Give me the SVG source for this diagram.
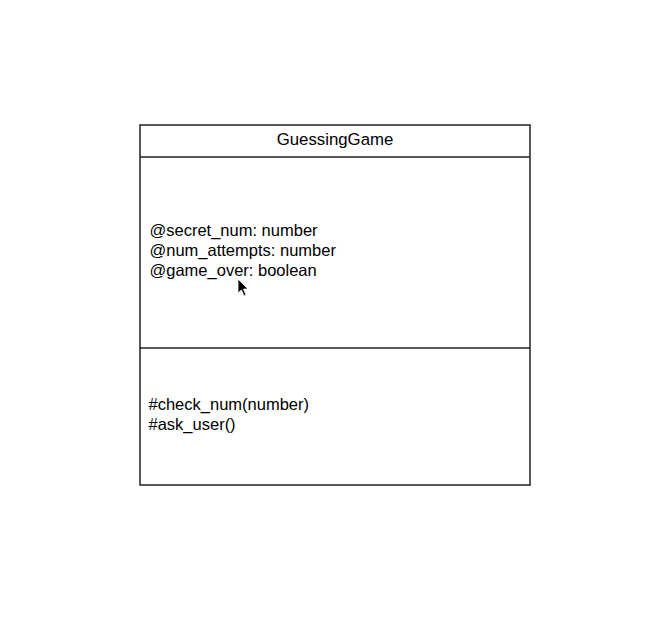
<svg xmlns="http://www.w3.org/2000/svg" width="668" height="619" viewBox="0 0 668 619">
<style>
.box{fill:#fff;stroke:#222;stroke-width:1.5}
.line{stroke:#222;stroke-width:1.5}
text{font-family:"Liberation Sans",Arial,sans-serif;font-size:16.5px;fill:#000}
</style>
<rect width="668" height="619" fill="#fff"/>
<g id="GuessingGame">
<rect class="box" x="140" y="125" width="390" height="360"/>
<line class="line" x1="140" y1="157" x2="530" y2="157"/>
<line class="line" x1="140" y1="348" x2="530" y2="348"/>
<text x="335" y="145" text-anchor="middle" style="font-size:16.8px">GuessingGame</text>
<text x="149.5" y="235.5">@secret_num: number</text>
<text x="149.5" y="255.5">@num_attempts: number</text>
<text x="149.5" y="275.5">@game_over: boolean</text>
<text x="148.5" y="409.5">#check_num(number)</text>
<text x="148.5" y="429.5">#ask_user()</text>
</g>
<g id="connectors"/>
<polygon points="238,279 238,293 241.5,290 244,296 246,295 243.5,289 248,289" fill="#000" stroke="#fff" stroke-width="0.8"/>
</svg>
